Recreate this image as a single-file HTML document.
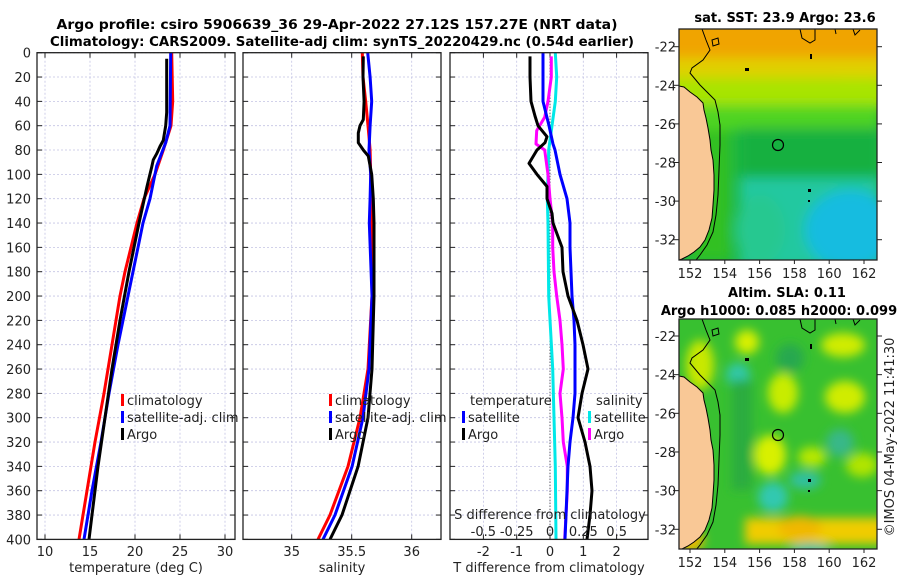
<!DOCTYPE html>
<html><head><meta charset="utf-8">
<style>
html,body{margin:0;padding:0;background:#fff;}
svg{display:block;font-family:"DejaVu Sans","Liberation Sans",sans-serif;}
.t{font-size:13px;fill:#222;}
.tb{font-size:13px;font-weight:bold;fill:#000;}
.ax{fill:none;stroke:#222;stroke-width:1.3;}
.g{stroke:#c4c4e4;stroke-width:0.8;stroke-dasharray:2 2;}
</style></head>
<body>
<svg id="c" width="900" height="580" viewBox="0 0 900 580">
<defs>
<filter id="bl" x="-20%" y="-20%" width="140%" height="140%"><feGaussianBlur stdDeviation="6"/></filter>
<filter id="bl2" x="-20%" y="-20%" width="140%" height="140%"><feGaussianBlur stdDeviation="5"/></filter>
<clipPath id="cm1"><rect x="679" y="29" width="198" height="231"/></clipPath>
<clipPath id="cm2"><rect x="679" y="319" width="198" height="230"/></clipPath>
<clipPath id="cp1"><rect x="37" y="52" width="198" height="487"/></clipPath>
<clipPath id="cp2"><rect x="243" y="52" width="198" height="487"/></clipPath>
<clipPath id="cp3"><rect x="450" y="52" width="198" height="487"/></clipPath>
<g id="coast">
<path d="M679,86 L684,87 L690,92 L697,97 L703,103 L704,110 L706,118 L708,128 L710,140 L711,150 L713,160 L714,175 L714,190 L713,205 L712,218 L709,230 L705,240 L700,247 L694,252 L688,256 L682,259 L679,260 Z" fill="#f9c896" stroke="#000" stroke-width="1"/>
<path d="M702,29 L706,40 L710,50 L703,60 L692,68 L690,73 L700,85 L710,95 L715,100 L718,112 L720,125 L720,145 L719,170 L718,195 L716,215 L713,232 L707,245 L700,255 L696,260" fill="none" stroke="#000" stroke-width="1"/>
<path d="M712,40 L718,38 L719,44 L713,46 Z" fill="none" stroke="#000" stroke-width="1"/>
<path d="M800,29 L802,38 L810,43 L815,40 L815,29" fill="none" stroke="#000" stroke-width="1"/>
<path d="M853,29 L855,35 L860,30 M835,29 L836,34" fill="none" stroke="#000" stroke-width="1"/>
<rect x="745" y="68" width="4" height="3" fill="#000"/>
<rect x="810" y="54" width="2" height="5" fill="#000"/>
<rect x="808" y="189" width="3" height="3" fill="#000"/>
<rect x="808" y="200" width="2" height="2" fill="#000"/>
<circle cx="778" cy="145" r="5.5" fill="none" stroke="#000" stroke-width="1.2"/>
</g>
</defs>

<!-- titles -->
<text class="tb" x="337" y="29" text-anchor="middle" textLength="561" lengthAdjust="spacingAndGlyphs">Argo profile: csiro 5906639_36 29-Apr-2022 27.12S 157.27E (NRT data)</text>
<text class="tb" x="342" y="46" text-anchor="middle" textLength="584" lengthAdjust="spacingAndGlyphs">Climatology: CARS2009. Satellite-adj clim: synTS_20220429.nc (0.54d earlier)</text>

<g id="panels"></g>

<!-- top map -->
<g>
<g clip-path="url(#cm1)">
<rect x="679" y="29" width="198" height="231" fill="#20b840"/>
<g filter="url(#bl)">
<rect x="660" y="10" width="240" height="50" fill="#f0a400"/>
<rect x="660" y="58" width="240" height="20" fill="#e0d000"/>
<ellipse cx="855" cy="92" rx="35" ry="18" fill="#e0d400"/>
<rect x="660" y="78" width="240" height="30" fill="#a8e400"/>
<rect x="690" y="105" width="190" height="25" fill="#50d420"/>
<rect x="740" y="128" width="140" height="50" fill="#18b040"/>
<rect x="740" y="178" width="140" height="90" fill="#24c8a0"/>
<ellipse cx="850" cy="230" rx="45" ry="40" fill="#18bce0"/>
<ellipse cx="760" cy="230" rx="25" ry="35" fill="#28c890"/>
<rect x="690" y="130" width="40" height="130" fill="#30c020"/>
</g>
<use href="#coast"/>
</g>
<rect x="679" y="29" width="198" height="231" class="ax"/>
<text class="tb" x="785" y="22" text-anchor="middle">sat. SST: 23.9 Argo: 23.6</text>
</g>

<!-- bottom map -->
<g>
<g clip-path="url(#cm2)">
<rect x="679" y="319" width="198" height="230" fill="#38c030"/>
<g filter="url(#bl2)">
<ellipse cx="747" cy="342" rx="12" ry="12" fill="#d8f000"/>
<ellipse cx="843" cy="345" rx="22" ry="12" fill="#d0ec00"/>
<ellipse cx="783" cy="393" rx="15" ry="20" fill="#c8ec00"/>
<ellipse cx="845" cy="397" rx="20" ry="16" fill="#d0ec00"/>
<ellipse cx="770" cy="455" rx="16" ry="20" fill="#d8f000"/>
<ellipse cx="812" cy="457" rx="14" ry="10" fill="#b8e800"/>
<ellipse cx="862" cy="465" rx="16" ry="12" fill="#b0e400"/>
<rect x="745" y="518" width="140" height="26" fill="#f0cc00"/>
<ellipse cx="800" cy="528" rx="22" ry="12" fill="#f0b800"/>
<ellipse cx="690" cy="540" rx="14" ry="12" fill="#f0b800"/>
<ellipse cx="700" cy="365" rx="14" ry="25" fill="#c8e800"/>
<ellipse cx="738" cy="375" rx="12" ry="12" fill="#30c8a8"/>
<ellipse cx="773" cy="497" rx="15" ry="15" fill="#30c8b0"/>
<ellipse cx="805" cy="480" rx="16" ry="9" fill="#30c0a0"/>
<ellipse cx="840" cy="443" rx="14" ry="14" fill="#38b888"/>
<ellipse cx="790" cy="358" rx="14" ry="14" fill="#28a850"/>
<rect x="732" y="380" width="20" height="110" fill="#2aac40"/>
<ellipse cx="810" cy="550" rx="20" ry="7" fill="#30c0a0"/>
</g>
<use href="#coast" transform="translate(0,290)"/>
</g>
<rect x="679" y="319" width="198" height="230" class="ax"/>
<text class="tb" x="787" y="297" text-anchor="middle">Altim. SLA: 0.11</text>
<text class="tb" x="779" y="315" text-anchor="middle">Argo h1000: 0.085 h2000: 0.099</text>
</g>
<text class="t" x="0" y="0" transform="translate(894,437) rotate(-90)" text-anchor="middle">©IMOS 04-May-2022 11:41:30</text>
<g id="maps-axes"></g>
</svg>
<script>
// ---------- data ----------
const depthTicks = [0,20,40,60,80,100,120,140,160,180,200,220,240,260,280,300,320,340,360,380,400];
const tempTicks = [10,15,20,25,30];
const salTicks = [35,35.5,36];
const tdiffTicks = [-2,-1,0,1,2];
const sdiffTicks = [-0.5,-0.25,0,0.25,0.5];
const sdiffLabels = ["-0.5","-0.25","0","0.25","0.5"];
const lonTicks = [152,154,156,158,160,162];
const latTicks = [-22,-24,-26,-28,-30,-32];

const tClimDepth = [0,40,60,80,100,120,140,160,180,200,240,280,320,360,400];
const tClim = [24.08,24.19,24.0,23.14,22.22,21.0,20.22,19.56,18.89,18.33,17.44,16.56,15.56,14.67,13.78];
const tSatDepth = [0,60,74,93,120,140,160,180,200,240,280,320,360,400];
const tSat = [23.97,23.89,23.41,22.41,21.67,20.89,20.33,19.78,19.22,18.11,17.11,16.22,15.22,14.33];
const tArgoDepth = [5,49,60,72,77,83,88,94,110,140,180,220,260,300,340,380,400];
const tArgo = [23.52,23.52,23.41,23.14,22.78,22.41,22.03,21.86,21.33,20.44,19.33,18.33,17.44,16.67,15.89,15.22,14.89];

const sClimDepth = [0,20,40,60,69,80,100,120,140,200,260,300,340,380,400];
const sClim = [35.588,35.594,35.617,35.636,35.644,35.653,35.658,35.661,35.667,35.669,35.636,35.569,35.469,35.319,35.219];
const sSatDepth = [0,20,40,60,80,100,120,140,200,260,300,340,380,400];
const sSat = [35.633,35.653,35.667,35.653,35.644,35.658,35.653,35.647,35.669,35.644,35.594,35.503,35.361,35.261];
const sArgoDepth = [3,20,40,55,60,66,74,80,85,100,120,140,200,260,300,340,380,400];
const sArgo = [35.597,35.594,35.603,35.597,35.569,35.555,35.555,35.597,35.638,35.667,35.68,35.686,35.686,35.669,35.636,35.553,35.419,35.319];

const dtArgoDepth = [3,20,40,52,60,69,74,80,91,100,110,120,132,140,160,180,200,220,240,260,280,300,320,340,360,380,400];
const dtArgo = [-0.6,-0.6,-0.57,-0.45,-0.36,-0.09,-0.15,-0.39,-0.63,-0.39,-0.09,-0.09,0.06,0.09,0.36,0.39,0.54,0.81,0.99,1.14,0.96,0.84,1.05,1.2,1.26,1.2,1.11];
const dtSatDepth = [0,20,40,60,75,80,100,120,140,160,180,200,220,240,260,280,300,320,340,360,380,400];
const dtSat = [-0.21,-0.21,-0.21,-0.03,0.09,0.15,0.3,0.51,0.6,0.6,0.63,0.66,0.72,0.75,0.75,0.75,0.69,0.6,0.54,0.51,0.48,0.45];
const dsArgoDepth = [3,20,40,53,64,75,80,100,120,140,160,180,200,220,240,260,280,300,320,340,360,380,400];
const dsArgo = [0.01,0.01,-0.015,-0.04,-0.1,-0.105,-0.04,-0.015,0,0.02,0.02,0.03,0.05,0.075,0.09,0.1,0.075,0.09,0.1,0.13,0.13,0.12,0.11];
const dsSatDepth = [0,20,40,60,80,100,120,140,200,260,300,340,400];
const dsSat = [0.04,0.05,0.04,0.015,-0.01,-0.015,-0.02,-0.015,-0.01,0.02,0.03,0.04,0.045];

// ---------- scales ----------
const NS='http://www.w3.org/2000/svg';
const yD = d => 52.7 + d*1.2167;
const xT = t => 45 + (t-10)*9;
const xS = s => 291.7 + (s-35)*120;
const xDT = t => 550 + t*33.3;
const xDS = s => 550 + s*133.3;
const lonX = l => 690 + (l-152)*17.4;
const latY1 = l => 46.7 + (-22-l)*19.3;
const latY2 = l => 336 + (-22-l)*19.33;

const root = document.getElementById('panels');
function mk(tag, attrs, parent){
  const e=document.createElementNS(NS,tag);
  for(const k in attrs) e.setAttribute(k,attrs[k]);
  (parent||root).appendChild(e); return e;
}
function txt(s,x,y,anchor,parent){
  const e=mk('text',{x:x,y:y,'text-anchor':anchor||'middle',class:'t'},parent);
  e.textContent=s; return e;
}
const panels=[
  {x0:37,x1:235,ticks:tempTicks,sx:xT,label:'temperature (deg C)',name:'temperature-panel',clip:'cp1'},
  {x0:243,x1:441,ticks:salTicks,sx:xS,label:'salinity',name:'salinity-panel',clip:'cp2'},
  {x0:450,x1:648,ticks:tdiffTicks,sx:xDT,label:'T difference from climatology',name:'difference-panel',clip:'cp3'}
];
const Y0=52.7, Y1=539.4;
panels.forEach((p,i)=>{
  const g=mk('g',{});
  
  
  depthTicks.forEach(d=>{
    mk('line',{x1:p.x0,x2:p.x1,y1:yD(d),y2:yD(d),class:'g'},g);
    mk('line',{x1:p.x0,x2:p.x0+5,y1:yD(d),y2:yD(d),stroke:'#222','stroke-width':1},g);
    mk('line',{x1:p.x1-5,x2:p.x1,y1:yD(d),y2:yD(d),stroke:'#222','stroke-width':1},g);
  });
  p.ticks.forEach(t=>{
    const x=p.sx(t);
    mk('line',{x1:x,x2:x,y1:Y0,y2:Y1,class:'g'},g);
    mk('line',{x1:x,x2:x,y1:Y1-5,y2:Y1,stroke:'#222','stroke-width':1},g);
    mk('line',{x1:x,x2:x,y1:Y0,y2:Y0+5,stroke:'#222','stroke-width':1},g);
    const lt=txt(String(t),x,556,'middle',g);
    
    
  });
  const at=txt(p.label,(p.x0+p.x1)/2,572,'middle',g);
  
  
  if(i===0){
    depthTicks.forEach(d=>{
      const yl=txt(String(d),31,yD(d)+5,'end',g);
      
      
    });
  }
  p.g=g;
});
mk('line',{x1:xDT(0),x2:xDT(0),y1:Y0,y2:Y1,stroke:'#333','stroke-width':1,'stroke-dasharray':'1 2'},panels[2].g);

function series(vals,depths,sx,color,name,panel){
  let d='';
  vals.forEach((v,k)=>{ d+=(k?'L':'M')+sx(v).toFixed(1)+','+yD(depths[k]).toFixed(1); });
  const p=mk('path',{d:d,fill:'none',stroke:color,'stroke-width':3,'stroke-linejoin':'round','clip-path':'url(#'+panel.clip+')'},panel.g);
  
  
}
series(tClim,tClimDepth,xT,'#ff0000','temp-climatology-line',panels[0]);
series(tSat,tSatDepth,xT,'#0000ff','temp-satellite-line',panels[0]);
series(tArgo,tArgoDepth,xT,'#000000','temp-argo-line',panels[0]);
series(sClim,sClimDepth,xS,'#ff0000','sal-climatology-line',panels[1]);
series(sSat,sSatDepth,xS,'#0000ff','sal-satellite-line',panels[1]);
series(sArgo,sArgoDepth,xS,'#000000','sal-argo-line',panels[1]);
series(dsSat,dsSatDepth,xDS,'#00e8e8','sdiff-satellite-line',panels[2]);
series(dsArgo,dsArgoDepth,xDS,'#ff00ff','sdiff-argo-line',panels[2]);
series(dtSat,dtSatDepth,xDT,'#0000ff','tdiff-satellite-line',panels[2]);
series(dtArgo,dtArgoDepth,xDT,'#000000','tdiff-argo-line',panels[2]);

panels.forEach(p=>{ mk('rect',{x:p.x0,y:Y0,width:p.x1-p.x0,height:Y1-Y0,class:'ax'},p.g); });

const sl=txt('S difference from climatology',xDS(0),519,'middle',panels[2].g);


sdiffTicks.forEach((s,k)=>{
  const e=txt(sdiffLabels[k],xDS(s),536,'middle',panels[2].g);
  
  
});

function legend(x,y,color,label,panel){
  const g=mk('g',{},panel.g);
  
  
  mk('rect',{x:x,y:y-10,width:3,height:12,fill:color},g);
  txt(label,x+6,y+1,'start',g);
}
legend(121,404,'#ff0000','climatology',panels[0]);
legend(121,421,'#0000ff','satellite-adj. clim',panels[0]);
legend(121,438,'#000000','Argo',panels[0]);
legend(329,404,'#ff0000','climatology',panels[1]);
legend(329,421,'#0000ff','satellite-adj. clim',panels[1]);
legend(329,438,'#000000','Argo',panels[1]);
txt('temperature',470,405,'start',panels[2].g);
legend(462,421,'#0000ff','satellite',panels[2]);
legend(462,438,'#000000','Argo',panels[2]);
txt('salinity',596,405,'start',panels[2].g);
legend(588,421,'#00e8e8','satellite',panels[2]);
legend(588,438,'#ff00ff','Argo',panels[2]);

const ma=document.getElementById('maps-axes');
[[29,260,latY1],[319,549,latY2]].forEach(m=>{
  lonTicks.forEach(l=>{
    const x=lonX(l);
    mk('line',{x1:x,x2:x,y1:m[1],y2:m[1]+4,stroke:'#222'},ma);
    const e=txt(String(l),x,m[1]+18,'middle',ma);
    
    
  });
  latTicks.forEach(l=>{
    const y=m[2](l);
    mk('line',{x1:673,x2:679,y1:y,y2:y,stroke:'#222'},ma);
    mk('line',{x1:877,x2:882,y1:y,y2:y,stroke:'#222'},ma);
    const e=txt(String(l),676,y+5,'end',ma);
    
    
  });
});
</script>
</body></html>
